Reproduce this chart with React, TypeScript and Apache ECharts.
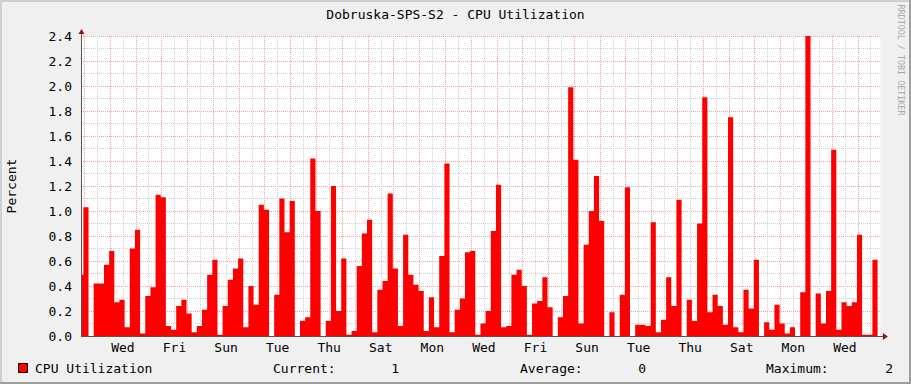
import React, { useEffect, useRef } from 'react';
import * as echarts from 'echarts';

// ---- data ----
const TITLE = 'Dobruska-SPS-S2 - CPU Utilization';
const Y_AXIS_TITLE = 'Percent';
const CREDIT = 'RRDTOOL / TOBI OETIKER';
const DAY_NAMES = ['Tue', 'Wed', 'Thu', 'Fri', 'Sat', 'Sun', 'Mon'];
const SERIES_NAME = 'CPU Utilization';
const LEGEND_LABELS = ['Current:', 'Average:', 'Maximum:'];
const LEGEND_VALUES = ['1', '0', '2'];

// hours, relative to the first midnight shown (Tue 00:00)
const SLOT_HOURS = 4.8;
const FIRST_SLOT_START = -5.6;
const X_MIN = -3;
const X_MAX = 741;
const Y_MAX = 2.4;

const cpuValues = [
  0.49, 1.03, 0, 0.42, 0.42, 0.57, 0.68, 0.27, 0.29, 0.07,
  0.70, 0.85, 0.02, 0.32, 0.39, 1.13, 1.11, 0.08, 0.05, 0.24,
  0.29, 0.18, 0.03, 0.08, 0.21, 0.49, 0.61, 0.01, 0.24, 0.45,
  0.54, 0.62, 0.07, 0.40, 0.25, 1.05, 1.01, 0, 0.33, 1.10,
  0.83, 1.08, 0, 0.12, 0.15, 1.42, 1.00, 0, 0.12, 1.20,
  0.20, 0.62, 0.01, 0.04, 0.56, 0.82, 0.93, 0.03, 0.37, 0.44,
  1.14, 0.54, 0.08, 0.81, 0.49, 0.41, 0.36, 0.04, 0.31, 0.07,
  0.64, 1.38, 0.03, 0.21, 0.30, 0.67, 0.68, 0.01, 0.10, 0.20,
  0.84, 1.21, 0.07, 0.08, 0.49, 0.53, 0.40, 0.01, 0.26, 0.28,
  0.47, 0.23, 0, 0.15, 0.32, 1.99, 1.41, 0.10, 0.73, 1.00,
  1.28, 0.92, 0, 0.19, 0, 0.33, 1.19, 0, 0.09, 0.09,
  0.08, 0.91, 0.03, 0.13, 0.47, 0.24, 1.09, 0, 0.29, 0.12,
  0.90, 1.91, 0.19, 0.33, 0.24, 0.09, 1.75, 0.07, 0.03, 0.37,
  0.22, 0.61, 0, 0.11, 0.05, 0.25, 0.10, 0.02, 0.07, 0,
  0.35, 2.40, 0, 0.34, 0.10, 0.36, 1.49, 0.05, 0.27, 0.24,
  0.27, 0.81, 0.01, 0.01, 0.61, 0,
];

// ---- layout / style ----
const W = 911;
const H = 384;
const PX_PER_HOUR = 25.786 / 24;
const GRID_LEFT = 81;
const GRID_TOP = 36;
const GRID_H = 300;
const GRID_W = (X_MAX - X_MIN) * PX_PER_HOUR;
const GRID2_LEFT = GRID_LEFT + (0 - X_MIN) * PX_PER_HOUR;
const GRID2_W = X_MAX * PX_PER_HOUR;
const FONT = '"DejaVu Sans Mono", monospace';
const MAJOR = '#f2a2a2';
const MINOR = '#cfcfcf';
const AXIS = '#555555';
const ARROW = '#9a1010';

export default function App() {
  const ref = useRef<HTMLDivElement>(null);

  useEffect(() => {
    if (!ref.current) return;
    const chart = echarts.init(ref.current, undefined, { renderer: 'svg' });

    const pts: [number, number][] = cpuValues.map((v, k) => [FIRST_SLOT_START + k * SLOT_HOURS, v]);
    pts.push([FIRST_SLOT_START + cpuValues.length * SLOT_HOURS, cpuValues[cpuValues.length - 1]]);

    const bottom = GRID_TOP + GRID_H;
    const right = GRID_LEFT + GRID_W;
    const legendY = 368;
    const txt = (x: number, y: number, text: string, extra: any = {}) => ({
      type: 'text', x, y, z: 20,
      style: { text, font: `13px ${FONT}`, fill: '#000', verticalAlign: 'middle', ...extra },
    });

    const graphic: any[] = [
      // frame shading
      { type: 'rect', z: 20, shape: { x: 0, y: 0, width: W, height: 2 }, style: { fill: '#cfcfcf' }, silent: true },
      { type: 'rect', z: 20, shape: { x: 0, y: 0, width: 2, height: H }, style: { fill: '#cfcfcf' }, silent: true },
      { type: 'rect', z: 20, shape: { x: W - 2, y: 0, width: 2, height: H }, style: { fill: '#9e9e9e' }, silent: true },
      { type: 'rect', z: 20, shape: { x: 0, y: H - 2, width: W, height: 2 }, style: { fill: '#9e9e9e' }, silent: true },
      // titles
      txt(455.5, 14, TITLE, { align: 'center' }),
      { ...txt(11.5, 186, Y_AXIS_TITLE, { align: 'center' }), rotation: Math.PI / 2 },
      {
        type: 'text', x: 900.5, y: 60, z: 20, rotation: -Math.PI / 2,
        style: { text: CREDIT, font: `8.4px ${FONT}`, fill: '#a8a8a8', align: 'center', verticalAlign: 'middle' },
      },
      // axis lines and arrows
      { type: 'line', z: 20, shape: { x1: GRID_LEFT + 0.5, y1: bottom, x2: GRID_LEFT + 0.5, y2: GRID_TOP - 3 }, style: { stroke: AXIS, lineWidth: 1 } },
      { type: 'polygon', z: 20, shape: { points: [[GRID_LEFT - 2.5, GRID_TOP - 2], [GRID_LEFT + 3.5, GRID_TOP - 2], [GRID_LEFT + 0.5, GRID_TOP - 7]] }, style: { fill: ARROW } },
      { type: 'line', z: 20, shape: { x1: GRID_LEFT, y1: bottom + 0.5, x2: right + 3, y2: bottom + 0.5 }, style: { stroke: AXIS, lineWidth: 1 } },
      { type: 'polygon', z: 20, shape: { points: [[right + 2.5, bottom - 3], [right + 2.5, bottom + 4], [right + 7.5, bottom + 0.5]] }, style: { fill: ARROW } },
      // legend
      { type: 'rect', z: 20, shape: { x: 18.5, y: legendY - 4.5, width: 9, height: 9 }, style: { fill: '#ff0000', stroke: '#000', lineWidth: 1 } },
      txt(35, legendY, SERIES_NAME),
      txt(273, legendY, LEGEND_LABELS[0]),
      txt(399, legendY, LEGEND_VALUES[0], { align: 'right' }),
      txt(520, legendY, LEGEND_LABELS[1]),
      txt(646, legendY, LEGEND_VALUES[1], { align: 'right' }),
      txt(766, legendY, LEGEND_LABELS[2]),
      txt(893, legendY, LEGEND_VALUES[2], { align: 'right' }),
    ];

    chart.setOption({
      animation: false,
      backgroundColor: '#f0f0f0',
      grid: [
        { left: GRID_LEFT, top: GRID_TOP, width: GRID_W, height: GRID_H, show: true, backgroundColor: '#ffffff', borderWidth: 0, containLabel: false, z: 0 },
        { left: GRID2_LEFT, top: GRID_TOP, width: GRID2_W, height: GRID_H, show: false, containLabel: false, z: 0 },
      ],
      xAxis: [
        {
          gridIndex: 0, type: 'value', min: X_MIN, max: X_MAX, z: 1,
          axisLine: { show: false }, axisTick: { show: false }, axisLabel: { show: false }, splitLine: { show: false },
        },
        {
          gridIndex: 1, type: 'value', min: 0, max: X_MAX, interval: 12, z: 1,
          axisLine: { show: false }, axisTick: { show: false },
          axisLabel: {
            show: true, interval: 0, margin: 5, fontFamily: FONT, fontSize: 13, color: '#000',
            hideOverlap: false,
            formatter: (v: number) => (Math.round(v) % 48 === 36 ? DAY_NAMES[Math.floor(v / 24) % 7] : ''),
          },
          splitLine: { show: true, showMaxLine: false, lineStyle: { color: [MAJOR, MINOR], width: 1, type: [1, 1] } },
        },
      ],
      yAxis: [
        {
          gridIndex: 0, type: 'value', min: 0, max: Y_MAX, interval: 0.1, z: 1,
          axisLine: { show: false },
          axisTick: { show: false },
          axisLabel: {
            margin: 9, fontFamily: FONT, fontSize: 13, color: '#000',
            formatter: (v: number) => (Math.round(v * 10) % 2 === 0 ? v.toFixed(1) : ''),
          },
          splitLine: { show: true, lineStyle: { color: [MAJOR, MINOR], width: 1, type: [1, 1] } },
        },
        { gridIndex: 1, type: 'value', min: 0, max: Y_MAX, show: false, splitLine: { show: false } },
      ],
      series: [
        {
          name: SERIES_NAME, type: 'line', xAxisIndex: 0, yAxisIndex: 0, step: 'end',
          data: pts, symbol: 'none', showSymbol: false,
          lineStyle: { width: 0, color: '#ff0000', opacity: 0 },
          itemStyle: { color: '#ff0000' },
          areaStyle: { color: '#ff0000', opacity: 1 },
          z: 10,
        },
      ],
      graphic,
    });

    return () => chart.dispose();
  }, []);

  return <div ref={ref} style={{ position: 'absolute', left: 0, top: 0, width: W, height: H }} />;
}
